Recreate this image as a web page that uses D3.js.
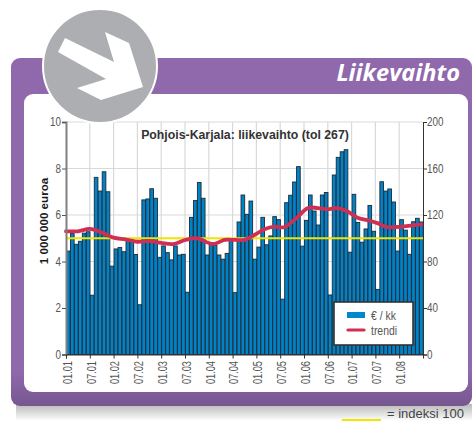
<!DOCTYPE html>
<html><head><meta charset="utf-8">
<style>html,body{margin:0;padding:0;background:#fff;overflow:hidden}svg{display:block}
text{font-family:"Liberation Sans",sans-serif}</style>
<script src="https://cdn.jsdelivr.net/npm/d3@7"></script></head><body>
<script>
const monthlyValues=[4.45,5.2,4.74,4.87,5.22,5.28,2.55,7.62,7.03,7.86,7.0,3.8,4.54,4.6,4.42,4.97,4.97,4.3,2.14,6.65,6.69,7.13,6.72,4.18,4.67,4.38,4.07,4.67,4.28,4.31,2.68,5.9,6.62,7.4,6.72,4.28,4.81,4.7,4.28,4.1,4.35,4.94,2.66,5.7,6.86,6.03,6.6,4.1,4.62,5.9,4.72,5.1,5.93,5.8,2.38,6.53,6.85,7.42,8.08,4.66,5.77,6.86,6.17,5.57,6.86,6.97,2.56,7.72,8.48,8.72,8.81,4.4,6.89,5.68,4.83,5.4,6.41,5.3,2.8,7.43,7.03,7.12,6.56,4.45,5.8,5.35,4.31,5.71,5.86,5.7];
const trendMonths=[0,3,6,9,12,15,18,21,24,27,30,33,37,40,42.6,45,47.6,50,52.6,55,58,61,63.5,66,68.5,71,73.5,76,78.5,81,84.3,89.6];
const trendValues=[106,106,108,105,100.5,99,97,97.6,96,95,98.5,100,95,98.5,98.6,98.6,103,107.7,110,109.5,117,126,126,125,126,123,117.7,115.6,113,109.5,110,112];
const indexLevel=[100];
const tickMonths=[0,6,12,18,24,30,36,42,48,54,60,66,72,78,84];
const tickLabels=["01.01","07.01","01.02","07.02","01.03","07.03","01.04","07.04","01.05","07.05","01.06","07.06","01.07","07.07","01.08"];
const leftTicks=[0,2,4,6,8,10];
const rightTicks=[0,40,80,120,160,200];
const legendLabels=["€ / kk","trendi"];

const W=472,H=421;
const svg=d3.select("body").append("svg").attr("width",W).attr("height",H);
const defs=svg.append("defs");
const g1=defs.append("linearGradient").attr("id","purple").attr("x1",0).attr("x2",0).attr("y1",0).attr("y2",1);
g1.append("stop").attr("offset","0.9").attr("stop-color","#9069ac");
g1.append("stop").attr("offset","1").attr("stop-color","#76578f");
const g2=defs.append("linearGradient").attr("id","shadow").attr("x1",0).attr("x2",0).attr("y1",0).attr("y2",1);
g2.append("stop").attr("offset","0").attr("stop-color","#b8b8ba");
g2.append("stop").attr("offset","1").attr("stop-color","#ffffff");

function narrow(sel,factor){
  sel.each(function(){
    const n=this.getComputedTextLength();
    d3.select(this).attr("textLength",n*factor).attr("lengthAdjust","spacingAndGlyphs");
  });
}

svg.append("rect").attr("x",16).attr("y",404).attr("width",456).attr("height",17).attr("fill","url(#shadow)");
svg.append("rect").attr("x",11).attr("y",58).attr("width",461).attr("height",348).attr("rx",9).attr("fill","url(#purple)");
svg.append("rect").attr("x",24).attr("y",94).attr("width",444).attr("height",298).attr("rx",9).attr("fill","#fff");

svg.append("text").attr("x",460).attr("y",81).attr("text-anchor","end").attr("fill","#fff")
  .style("font-family","'Open Sans'").style("font-weight",700).style("font-style","italic").style("font-size","23.6px").text("Liikevaihto");

const L=66,R=423,T=122,B=354.5;
const x=d3.scaleLinear().domain([0,monthlyValues.length]).range([L,R]);
const y=d3.scaleLinear().domain([0,10]).range([B,T]);
const yr=d3.scaleLinear().domain([0,200]).range([B,T]);

const grid=svg.append("g").attr("stroke","#d9d9d9").attr("stroke-width",1.2);
grid.selectAll(".h").data(leftTicks.slice(1)).join("line").attr("x1",L).attr("x2",R).attr("y1",d=>y(d)).attr("y2",d=>y(d));
grid.selectAll(".v").data(tickMonths.slice(1)).join("line").attr("y1",T).attr("y2",B).attr("x1",d=>x(d)).attr("x2",d=>x(d));

svg.append("g").selectAll("rect").data(monthlyValues).join("rect")
  .attr("x",(d,i)=>x(i)+0.5).attr("width",(d,i)=>x(i+1)-x(i)-0.3)
  .attr("y",d=>y(d)).attr("height",d=>B-y(d))
  .attr("fill","#0082c8").attr("stroke","#1d2a33").attr("stroke-width",0.9);

svg.append("g").selectAll("line").data(indexLevel).join("line")
  .attr("x1",L).attr("x2",R).attr("y1",d=>yr(d)).attr("y2",d=>yr(d))
  .attr("stroke","#f0e400").attr("stroke-width",1.8);

const line=d3.line().x((d,i)=>x(trendMonths[i])).y(d=>yr(d)).curve(d3.curveCatmullRom.alpha(0.5));
svg.append("path").attr("d",line(trendValues)).attr("fill","none").attr("stroke","#cf2f52").attr("stroke-width",3.8).attr("stroke-linecap","round");

function styleAxis(g,col,factor){
  const t=g.selectAll("text").attr("fill","#555").style("font-size","12px");
  narrow(t,factor);
  g.selectAll("line").attr("stroke",col);
  g.select(".domain").attr("stroke",col);
}
const axL=svg.append("g").attr("transform",`translate(${L},0)`).call(d3.axisLeft(y).tickValues(leftTicks).tickSize(4).tickPadding(1));
styleAxis(axL,"#555",0.82);
axL.select(".domain").attr("stroke","#808080").attr("stroke-width",2);
const axR=svg.append("g").attr("transform",`translate(${R},0)`).call(d3.axisRight(yr).tickValues(rightTicks).tickSize(4).tickPadding(0));
styleAxis(axR,"#333",0.82);
const axB=svg.append("g").attr("transform",`translate(0,${B})`).call(d3.axisBottom(x).tickValues(tickMonths).tickSize(4).tickFormat((d,i)=>tickLabels[i]));
styleAxis(axB,"#333",0.77);
axB.selectAll("text").attr("transform","rotate(-90)").attr("text-anchor","end").attr("x",-6.5).attr("y",1).attr("dy","0.35em");

svg.append("text").attr("transform","translate(47.5,221) rotate(-90)").attr("text-anchor","middle")
  .attr("fill","#1a1a1a").style("font-weight",700).style("font-size","11.6px").text("1 000 000 euroa");
svg.append("text").attr("x",245).attr("y",139).attr("text-anchor","middle").attr("fill","#333")
  .style("font-weight",700).style("font-size","12.3px").text("Pohjois-Karjala: liikevaihto (tol 267)");

const leg=svg.append("g");
leg.append("rect").attr("x",334).attr("y",302).attr("width",79).attr("height",43).attr("fill","#fff").attr("stroke","#333").attr("stroke-width",1.6);
leg.append("rect").attr("x",347).attr("y",312).attr("width",18).attr("height",6).attr("fill","#0088ce");
leg.append("line").attr("x1",348).attr("x2",364).attr("y1",330).attr("y2",330).attr("stroke","#cf2f52").attr("stroke-width",3.2).attr("stroke-linecap","round");
const legText=leg.selectAll("text").data(legendLabels).join("text").attr("x",371).attr("y",(d,i)=>i?335:319.5).attr("fill","#555").style("font-size","13px").text(d=>d);
narrow(legText,0.8);

svg.append("circle").attr("cx",100).attr("cy",66).attr("r",57).attr("fill","#acaeb1").attr("stroke","#fff").attr("stroke-width",2);
const arrow=[[65,38],[114,62],[105,32],[129,43],[143,87],[101,100],[77,88],[106,79],[58,52]];
svg.append("polygon").attr("points",arrow.map(p=>p.join(",")).join(" ")).attr("fill","#fff");

svg.append("line").attr("x1",342).attr("x2",381).attr("y1",420).attr("y2",420).attr("stroke","#f0e400").attr("stroke-width",2);
const idx=svg.append("text").attr("x",387).attr("y",418).attr("fill","#444").style("font-size","13.5px").text("= indeksi 100");
idx.attr("textLength",77).attr("lengthAdjust","spacingAndGlyphs");
</script></body></html>
